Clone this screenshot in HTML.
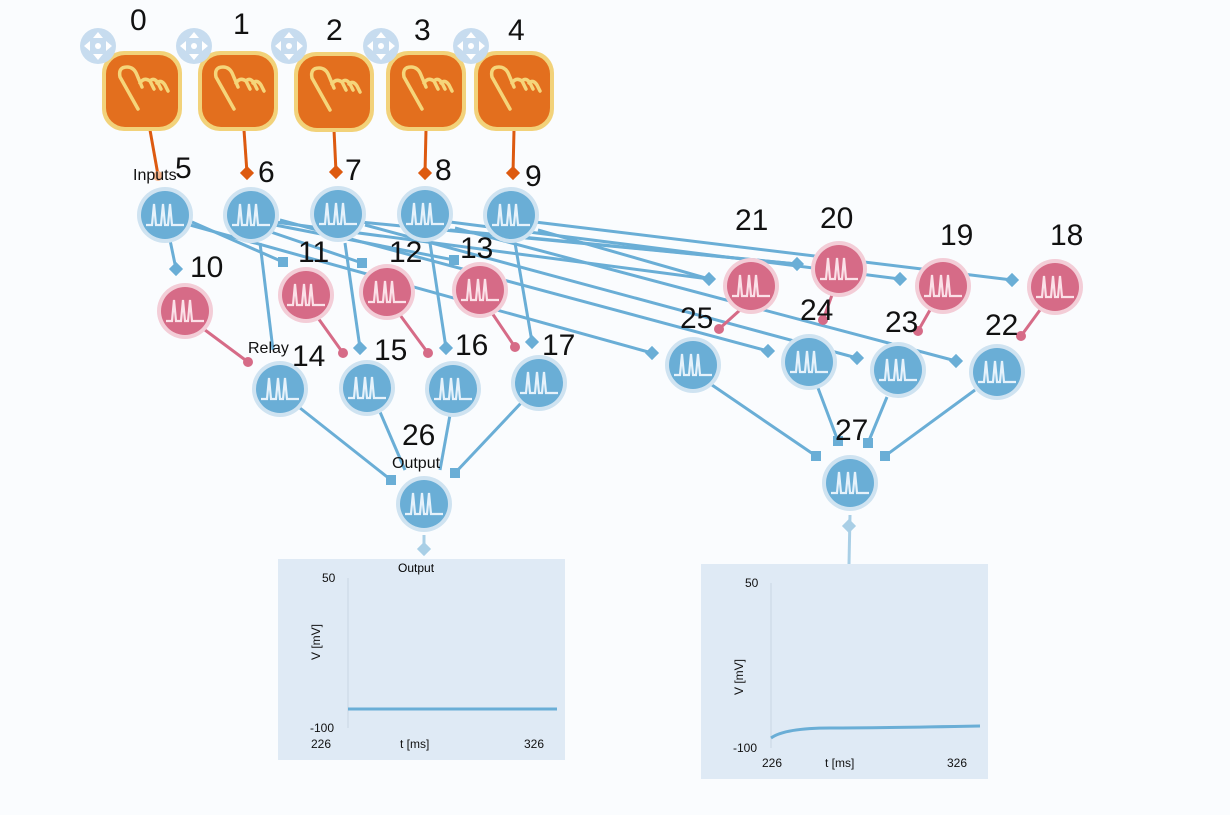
<!DOCTYPE html>
<html><head><meta charset="utf-8"><style>
body{margin:0;background:#fafcfe;width:1230px;height:810px;overflow:hidden;font-family:"Liberation Sans",sans-serif}
</style></head><body>
<svg width="1230" height="810" viewBox="0 0 1230 810" xmlns="http://www.w3.org/2000/svg">
<defs>
<g id="sp"><path d="M-19 10 H-13 L-11 -11 L-9 10 H-4 L-2 -11 L0 10 H3 L5 -11 L7 10 H19" fill="none" stroke-width="2.2"/></g>
<g id="bn"><circle r="28" fill="#cfe3f1"/><circle r="24" fill="#6aaed6"/><use href="#sp" stroke="#e6f2fb"/></g>
<g id="rn"><circle r="28" fill="#f3cdd7"/><circle r="24" fill="#d66b87"/><use href="#sp" stroke="#fbe1e8"/></g>
<g id="dm"><rect x="-5" y="-5" width="10" height="10" transform="rotate(45)" fill="#6aaed6"/></g>
<g id="sq"><rect x="-5" y="-5" width="10" height="10" fill="#6aaed6"/></g>
<g id="mv"><circle r="18" fill="#c7dcef"/><path d="M0 -14 L5 -8 H-5Z M0 14 L5 8 H-5Z M-14 0 L-8 5 V-5Z M14 0 L8 5 V-5Z" fill="#fff"/><circle r="3" fill="#fff"/></g>
<g id="hd"><rect x="-40" y="-40" width="80" height="80" rx="22" fill="#f2d27a"/><rect x="-36" y="-36" width="72" height="72" rx="19" fill="#e36f1e"/>
<path d="M-4 18 L-22 -14 Q-24 -24 -15 -24 Q-8 -24 -5 -16 L0 -4 M-2 -8 Q2 -14 8 -10 L12 -2 M8 -10 Q12 -14 16 -8 L19 -2 M15 -8 Q19 -12 23 -6 L26 0" fill="none" stroke="#f5d57a" stroke-width="3.5" stroke-linecap="round"/></g>
</defs>
<g stroke="#6aaed6" stroke-width="3" fill="none">
<line x1="170" y1="240" x2="176" y2="269"/>
<line x1="192" y1="222" x2="283" y2="262"/>
<line x1="265" y1="230" x2="362" y2="263"/>
<line x1="275" y1="225" x2="454" y2="260"/>
<line x1="260" y1="243" x2="273" y2="350"/>
<line x1="345" y1="243" x2="360" y2="348"/>
<line x1="430" y1="243" x2="446" y2="348"/>
<line x1="515" y1="243" x2="532" y2="342"/>
<line x1="190" y1="225" x2="652" y2="353"/>
<line x1="275" y1="222" x2="709" y2="279"/>
<line x1="280" y1="220" x2="768" y2="351"/>
<line x1="360" y1="222" x2="797" y2="264"/>
<line x1="365" y1="225" x2="857" y2="358"/>
<line x1="450" y1="222" x2="900" y2="279"/>
<line x1="455" y1="228" x2="956" y2="361"/>
<line x1="535" y1="222" x2="1012" y2="280"/>
<line x1="538" y1="230" x2="709" y2="279"/>
<line x1="450" y1="230" x2="797" y2="264"/>
<line x1="300" y1="408" x2="391" y2="480"/>
<line x1="380" y1="412" x2="405" y2="470"/>
<line x1="450" y1="415" x2="440" y2="470"/>
<line x1="522" y1="402" x2="455" y2="473"/>
<line x1="712" y1="385" x2="816" y2="456"/>
<line x1="818" y1="388" x2="838" y2="441"/>
<line x1="887" y1="397" x2="868" y2="443"/>
<line x1="975" y1="390" x2="885" y2="456"/>
</g>
<g fill="#6aaed6">
<use href="#dm" x="176" y="269"/><use href="#sq" x="283" y="262"/><use href="#sq" x="362" y="263"/><use href="#sq" x="454" y="260"/>
<use href="#dm" x="360" y="348"/><use href="#dm" x="446" y="348"/><use href="#dm" x="532" y="342"/>
<use href="#dm" x="652" y="353"/><use href="#dm" x="709" y="279"/><use href="#dm" x="768" y="351"/><use href="#dm" x="797" y="264"/>
<use href="#dm" x="857" y="358"/><use href="#dm" x="900" y="279"/><use href="#dm" x="956" y="361"/><use href="#dm" x="1012" y="280"/>
<use href="#sq" x="391" y="480"/><use href="#sq" x="455" y="473"/>
<use href="#sq" x="816" y="456"/><use href="#sq" x="838" y="441"/><use href="#sq" x="868" y="443"/><use href="#sq" x="885" y="456"/>
</g>
<g stroke="#d66b87" stroke-width="3">
<line x1="205" y1="330" x2="248" y2="362"/><line x1="318" y1="318" x2="343" y2="353"/>
<line x1="400" y1="315" x2="428" y2="353"/><line x1="492" y1="313" x2="515" y2="347"/>
<line x1="740" y1="310" x2="719" y2="329"/><line x1="832" y1="295" x2="823" y2="320"/>
<line x1="930" y1="310" x2="918" y2="331"/><line x1="1040" y1="310" x2="1021" y2="336"/>
</g>
<g fill="#d66b87"><circle cx="248" cy="362" r="5"/><circle cx="343" cy="353" r="5"/><circle cx="428" cy="353" r="5"/><circle cx="515" cy="347" r="5"/>
<circle cx="719" cy="329" r="5"/><circle cx="823" cy="320" r="5"/><circle cx="918" cy="331" r="5"/><circle cx="1021" cy="336" r="5"/></g>
<g stroke="#dd5a10" stroke-width="3">
<line x1="150" y1="130" x2="158" y2="175"/><line x1="244" y1="130" x2="247" y2="173"/>
<line x1="334" y1="130" x2="336" y2="172"/><line x1="426" y1="130" x2="425" y2="173"/><line x1="514" y1="130" x2="513" y2="173"/></g>
<g fill="#dd5a10"><rect x="242" y="168" width="10" height="10" transform="rotate(45 247 173)"/><rect x="331" y="167" width="10" height="10" transform="rotate(45 336 172)"/>
<rect x="420" y="168" width="10" height="10" transform="rotate(45 425 173)"/><rect x="508" y="168" width="10" height="10" transform="rotate(45 513 173)"/></g>
<circle cx="158" cy="176" r="5" fill="#f5b38a"/>
<use href="#hd" x="142" y="91"/><use href="#hd" x="238" y="91"/><use href="#hd" x="334" y="92"/><use href="#hd" x="426" y="91"/><use href="#hd" x="514" y="91"/>
<use href="#mv" x="98" y="46"/><use href="#mv" x="194" y="46"/><use href="#mv" x="289" y="46"/><use href="#mv" x="381" y="46"/><use href="#mv" x="471" y="46"/>
<use href="#bn" x="165" y="215"/><use href="#bn" x="251" y="215"/><use href="#bn" x="338" y="214"/><use href="#bn" x="425" y="214"/><use href="#bn" x="511" y="215"/>
<use href="#rn" x="185" y="311"/><use href="#rn" x="306" y="295"/><use href="#rn" x="387" y="292"/><use href="#rn" x="480" y="290"/>
<use href="#bn" x="280" y="389"/><use href="#bn" x="367" y="388"/><use href="#bn" x="453" y="389"/><use href="#bn" x="539" y="383"/>
<use href="#bn" x="424" y="504"/>
<use href="#rn" x="751" y="286"/><use href="#rn" x="839" y="269"/><use href="#rn" x="943" y="286"/><use href="#rn" x="1055" y="287"/>
<use href="#bn" x="693" y="365"/><use href="#bn" x="809" y="362"/><use href="#bn" x="898" y="370"/><use href="#bn" x="997" y="372"/>
<use href="#bn" x="850" y="483"/>
<g font-size="16" fill="#111"><text x="133" y="180">Inputs</text><text x="248" y="353">Relay</text><text x="392" y="468">Output</text></g>
<g font-size="30" fill="#111">
<text x="130" y="30">0</text><text x="233" y="34">1</text><text x="326" y="40">2</text><text x="414" y="40">3</text><text x="508" y="40">4</text>
<text x="175" y="178">5</text><text x="258" y="182">6</text><text x="345" y="180">7</text><text x="435" y="180">8</text><text x="525" y="186">9</text>
<text x="190" y="277">10</text><text x="298" y="262">11</text><text x="389" y="262">12</text><text x="460" y="258">13</text>
<text x="292" y="366">14</text><text x="374" y="360">15</text><text x="455" y="355">16</text><text x="542" y="355">17</text>
<text x="402" y="445">26</text><text x="835" y="440">27</text>
<text x="735" y="230">21</text><text x="820" y="228">20</text><text x="940" y="245">19</text><text x="1050" y="245">18</text>
<text x="680" y="328">25</text><text x="800" y="320">24</text><text x="885" y="332">23</text><text x="985" y="335">22</text>
</g>
<line x1="424" y1="535" x2="424" y2="548" stroke="#a9cfe6" stroke-width="3"/><rect x="419" y="544" width="10" height="10" transform="rotate(45 424 549)" fill="#a9cfe6"/>
<line x1="850" y1="515" x2="849" y2="564" stroke="#a9cfe6" stroke-width="3"/><rect x="844" y="521" width="10" height="10" transform="rotate(45 849 526)" fill="#a9cfe6"/>
<rect x="278" y="559" width="287" height="201" fill="#dfeaf5"/>
<text x="398" y="572" font-size="12">Output</text>
<line x1="348" y1="578" x2="348" y2="728" stroke="#c8d5e2"/>
<line x1="348" y1="709" x2="557" y2="709" stroke="#6aaed6" stroke-width="3"/>
<g font-size="12" fill="#111"><text x="322" y="582">50</text><text x="310" y="732">-100</text><text x="311" y="748">226</text><text x="400" y="748">t [ms]</text><text x="524" y="748">326</text>
<text transform="translate(320 660) rotate(-90)">V [mV]</text></g>
<rect x="701" y="564" width="287" height="215" fill="#dfeaf5"/>
<line x1="771" y1="583" x2="771" y2="748" stroke="#c8d5e2"/>
<path d="M771 738 Q785 728 830 728 T980 726" fill="none" stroke="#6aaed6" stroke-width="3"/>
<g font-size="12" fill="#111"><text x="745" y="587">50</text><text x="733" y="752">-100</text><text x="762" y="767">226</text><text x="825" y="767">t [ms]</text><text x="947" y="767">326</text>
<text transform="translate(743 695) rotate(-90)">V [mV]</text></g>
</svg>
</body></html>
